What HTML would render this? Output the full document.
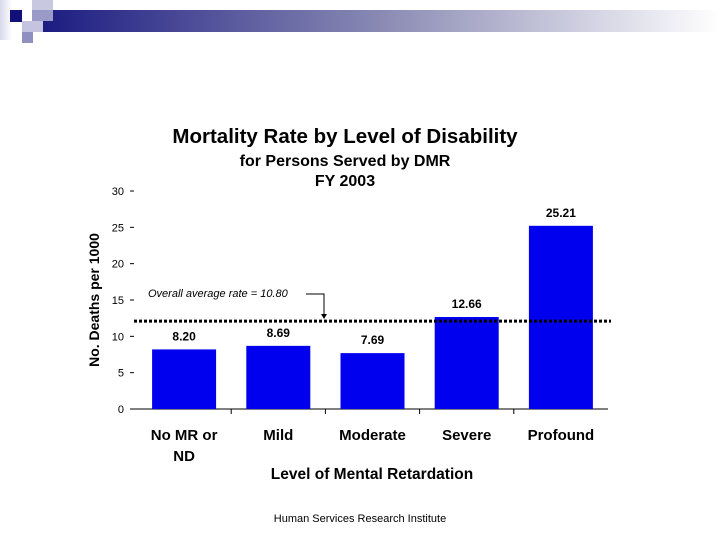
<!DOCTYPE html>
<html><head><meta charset="utf-8"><style>
html,body{margin:0;padding:0;background:#fff;}
svg{display:block;font-family:"Liberation Sans",Arial,sans-serif;}
</style></head><body>
<svg id="chart" width="720" height="540" viewBox="0 0 720 540">
<defs><linearGradient id="g" x1="0" x2="1" y1="0" y2="0"><stop offset="0" stop-color="#1c1c82"/><stop offset="0.5" stop-color="#8a8ab4"/><stop offset="1" stop-color="#ffffff"/></linearGradient>
<linearGradient id="g2" x1="0" x2="1"><stop offset="0" stop-color="#d8d8ec"/><stop offset="1" stop-color="#fff"/></linearGradient></defs>
<g>
<rect x="0" y="0" width="12" height="40" fill="url(#g2)"/>
<rect x="43" y="10" width="677" height="22" fill="url(#g)"/>
<rect x="32" y="0" width="21" height="21" fill="#c8c8e0"/>
<rect x="32" y="10" width="21" height="11" fill="#9a9ac8"/>
<rect x="10" y="10" width="12" height="12" fill="#101078"/>
<rect x="22" y="21" width="21" height="11" fill="#c4c4e0"/>
<rect x="22" y="32" width="11" height="11" fill="#9090c0"/>
</g>
<text x="345" y="143" text-anchor="middle" font-size="20.5" font-weight="bold">Mortality Rate by Level of Disability</text>
<text x="345" y="166" text-anchor="middle" font-size="16" font-weight="bold">for Persons Served by DMR</text>
<text x="345" y="186" text-anchor="middle" font-size="16" font-weight="bold">FY 2003</text>
<text transform="translate(99,300) rotate(-90)" text-anchor="middle" font-size="14" font-weight="bold">No. Deaths per 1000</text>
<text x="372" y="479" text-anchor="middle" font-size="15.5" font-weight="bold">Level of Mental Retardation</text>
<text x="360" y="522" text-anchor="middle" font-size="11">Human Services Research Institute</text>
<g id="plot"></g>
</svg>
<script>
const categories=["No MR or|ND","Mild","Moderate","Severe","Profound"];
const values=[8.20,8.69,7.69,12.66,25.21];
const valueLabels=["8.20","8.69","7.69","12.66","25.21"];
const yTicks=[0,5,10,15,20,25,30];
const refValue=12.1;
const refLabel="Overall average rate = 10.80";
const NS="http://www.w3.org/2000/svg";
const g=document.getElementById('plot');
const x0=137,x1=608,yB=409,yT=191,yMax=30;
const y=v=>yB-(v/yMax)*(yB-yT);
const bw=(x1-x0)/categories.length;
const xc=i=>x0+bw*(i+0.5);
function mk(t,a){const e=document.createElementNS(NS,t);for(const k in a)e.setAttribute(k,a[k]);g.appendChild(e);return e;}
let ax=mk('line',{x1:x0-3,x2:x1,y1:yB,y2:yB,stroke:'#000','stroke-width':1});


yTicks.forEach(t=>{
 const tx=mk('text',{x:124,y:y(t)+4,'text-anchor':'end','font-size':11});
 tx.textContent=t;
 
 
 const tk=mk('line',{x1:130,x2:134,y1:y(t),y2:y(t),stroke:'#000'});
 
 
});
categories.forEach((c,i)=>{
 if(i>0){const d=mk('line',{x1:x0+bw*i,x2:x0+bw*i,y1:yB,y2:yB+5,stroke:'#000'});
 
 }
 const r=mk('rect',{x:xc(i)-32,y:y(values[i]),width:64,height:yB-y(values[i]),fill:'#0000ee'});
 
 
 const vl=mk('text',{x:xc(i),y:y(values[i])-9,'text-anchor':'middle','font-size':12,'font-weight':'bold'});
 vl.textContent=valueLabels[i];
 
 
 c.split('|').forEach((ln,j)=>{
  const cl=mk('text',{x:xc(i),y:440+j*21,'text-anchor':'middle','font-size':15,'font-weight':'bold'});
  cl.textContent=ln;
  
  
 });
});
const rl=mk('line',{x1:x0-3,x2:x1+3,y1:y(refValue),y2:y(refValue),stroke:'#000','stroke-width':3,'stroke-dasharray':'3,2'});


const at=mk('text',{x:148,y:297,'font-size':11,'font-style':'italic'});
at.textContent=refLabel;


const ar=mk('path',{d:'M306,294 H324 V315',fill:'none',stroke:'#000'});


const ah=mk('path',{d:'M321,314 L327,314 L324,319 Z',fill:'#000'});


</script>
</body></html>
